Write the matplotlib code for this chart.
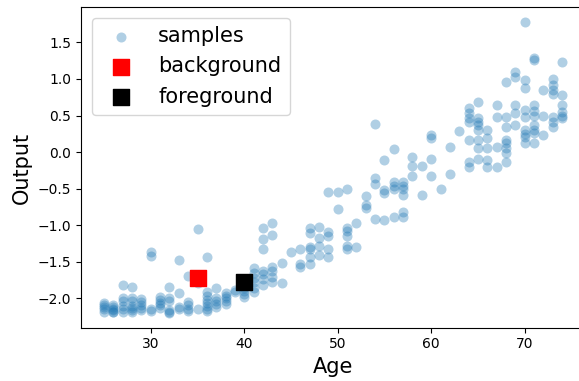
import matplotlib
matplotlib.use('Agg')
import matplotlib.pyplot as plt

# sample points (age, model output)
ages = ([25] * 5 + [26] * 6 + [27] * 6 + [28] * 7 + [29] * 5 + [30] * 4 +
        [31] * 5 + [32] * 6 + [33] * 4 + [34] * 5 + [35] * 4 + [36] * 8 +
        [37] * 5 + [38] * 5 + [39] * 2 + [40] * 5 + [41] * 6 + [42] * 7 +
        [43] * 6 + [44] * 2 + [45] * 1 + [46] * 3 + [47] * 6 + [48] * 4 +
        [49] * 5 + [50] * 2 + [51] * 6 + [52] * 2 + [53] * 3 + [54] * 4 +
        [55] * 4 + [56] * 5 + [57] * 6 + [58] * 3 + [59] * 2 + [60] * 4 +
        [61] * 1 + [62] * 2 + [63] * 1 + [64] * 7 + [65] * 8 + [66] * 5 +
        [67] * 4 + [68] * 8 + [69] * 5 + [70] * 9 + [71] * 9 + [72] * 3 +
        [73] * 7 + [74] * 6)

outputs = [
    -2.06, -2.09, -2.12, -2.15, -2.18,                # 25
    -2.09, -2.12, -2.14, -2.16, -2.18, -2.19,         # 26
    -1.82, -2.00, -2.04, -2.10, -2.14, -2.18,         # 27
    -1.84, -2.00, -2.04, -2.10, -2.13, -2.16, -2.18,  # 28
    -2.01, -2.05, -2.09, -2.13, -2.16,                # 29
    -1.37, -1.42, -2.14, -2.17,                       # 30
    -1.98, -2.02, -2.06, -2.09, -2.13,                # 31
    -1.84, -2.00, -2.04, -2.16, -2.18, -2.20,         # 32
    -1.47, -1.93, -2.12, -2.15,                       # 33
    -1.69, -2.05, -2.09, -2.14, -2.17,                # 34
    -1.05, -1.69, -1.79, -2.15,                       # 35
    -1.43, -1.91, -1.97, -2.02, -2.06, -2.10, -2.14, -2.17,  # 36
    -1.86, -2.00, -2.04, -2.08, -2.12,                # 37
    -1.93, -1.96, -2.00, -2.04, -2.07,                # 38
    -1.88, -1.91,                                     # 39
    -1.80, -1.86, -1.90, -1.94, -1.98,                # 40
    -1.59, -1.65, -1.72, -1.78, -1.85, -1.91,         # 41
    -1.04, -1.19, -1.33, -1.62, -1.67, -1.73, -1.82,  # 42
    -0.97, -1.13, -1.57, -1.63, -1.70, -1.77,         # 43
    -1.51, -1.79,                                     # 44
    -1.37,                                            # 45
    -1.33, -1.53, -1.57,                              # 46
    -1.04, -1.10, -1.29, -1.33, -1.43, -1.53,         # 47
    -1.02, -1.18, -1.28, -1.41,                       # 48
    -0.55, -1.09, -1.15, -1.32, -1.43,                # 49
    -0.55, -0.78,                                     # 50
    -0.50, -1.03, -1.08, -1.14, -1.28, -1.33,         # 51
    -0.97, -1.29,                                     # 52
    -0.60, -0.72, -0.76,                              # 53
    0.38, -0.36, -0.43, -0.91,                        # 54
    -0.11, -0.52, -0.56, -0.93,                       # 55
    0.04, -0.41, -0.46, -0.50, -0.88,                 # 56
    -0.41, -0.46, -0.50, -0.59, -0.82, -0.88,         # 57
    -0.07, -0.19, -0.32,                              # 58
    -0.19, -0.59,                                     # 59
    0.23, 0.19, -0.10, -0.32,                         # 60
    -0.50,                                            # 61
    0.07, -0.30,                                      # 62
    0.29,                                             # 63
    0.60, 0.53, 0.46, 0.41, 0.16, -0.13, -0.20,       # 64
    0.69, 0.46, 0.41, 0.37, 0.30, 0.16, 0.05, -0.09,  # 65
    0.30, 0.19, 0.05, -0.11, -0.20,                   # 66
    0.65, 0.48, 0.07, -0.20,                          # 67
    0.96, 0.48, 0.35, 0.16, 0.12, 0.05, -0.01, -0.13, # 68
    1.10, 1.03, 0.64, 0.53, 0.37,                     # 69
    1.78, 0.99, 0.87, 0.57, 0.48, 0.30, 0.25, 0.20, 0.12,  # 70
    1.29, 1.26, 0.64, 0.56, 0.50, 0.37, 0.30, 0.26, 0.12,  # 71
    0.85, 0.50, 0.23,                                 # 72
    1.00, 0.92, 0.85, 0.80, 0.48, 0.41, 0.35,         # 73
    1.23, 0.78, 0.64, 0.55, 0.50, 0.46,               # 74
]

background_age = [35]
background_out = [-1.72]
foreground_age = [40]
foreground_out = [-1.77]

fig = plt.figure(figsize=(5.79, 3.81), dpi=100)
# right edge of the axes runs past the figure, like the cropped original
ax = fig.add_axes([0.1402, 0.1399, 0.870, 0.841])

ax.scatter(ages, outputs, s=52, alpha=0.35, color='tab:blue', linewidths=0, label='samples')
ax.scatter(background_age, background_out, s=120, marker='s', color='red', label='background')
ax.scatter(foreground_age, foreground_out, s=120, marker='s', color='black', label='foreground')

ax.spines['right'].set_visible(False)
ax.set_xlabel('Age', fontsize=15)
ax.set_ylabel('Output', fontsize=15)
ax.legend(loc='upper left', fontsize=15)

fig.savefig('out.png', dpi=100)
